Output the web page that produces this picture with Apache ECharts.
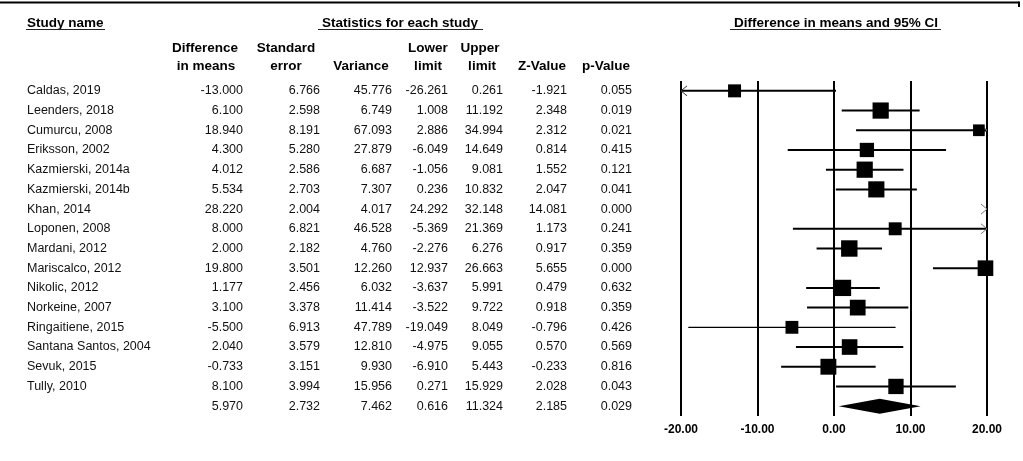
<!DOCTYPE html>
<html>
<head>
<meta charset="utf-8">
<title>Forest plot</title>
<script src="https://cdn.jsdelivr.net/npm/echarts@6/dist/echarts.min.js"></script>
<style>
  html, body { margin: 0; padding: 0; background: #fff; }
  #chart { width: 1023px; height: 461px; }
</style>
</head>
<body>
<div id="chart"></div>
<script>
// ---- Study-level statistics ----
const studies = [
  'Caldas, 2019', 'Leenders, 2018', 'Cumurcu, 2008', 'Eriksson, 2002',
  'Kazmierski, 2014a', 'Kazmierski, 2014b', 'Khan, 2014', 'Loponen, 2008',
  'Mardani, 2012', 'Mariscalco, 2012', 'Nikolic, 2012', 'Norkeine, 2007',
  'Ringaitiene, 2015', 'Santana Santos, 2004', 'Sevuk, 2015', 'Tully, 2010'
];
const diffMeans = [-13.000, 6.100, 18.940, 4.300, 4.012, 5.534, 28.220, 8.000, 2.000, 19.800, 1.177, 3.100, -5.500, 2.040, -0.733, 8.100];
const stdError  = [6.766, 2.598, 8.191, 5.280, 2.586, 2.703, 2.004, 6.821, 2.182, 3.501, 2.456, 3.378, 6.913, 3.579, 3.151, 3.994];
const variance  = [45.776, 6.749, 67.093, 27.879, 6.687, 7.307, 4.017, 46.528, 4.760, 12.260, 6.032, 11.414, 47.789, 12.810, 9.930, 15.956];
const lowerLim  = [-26.261, 1.008, 2.886, -6.049, -1.056, 0.236, 24.292, -5.369, -2.276, 12.937, -3.637, -3.522, -19.049, -4.975, -6.910, 0.271];
const upperLim  = [0.261, 11.192, 34.994, 14.649, 9.081, 10.832, 32.148, 21.369, 6.276, 26.663, 5.991, 9.722, 8.049, 9.055, 5.443, 15.929];
const zValue    = [-1.921, 2.348, 2.312, 0.814, 1.552, 2.047, 14.081, 1.173, 0.917, 5.655, 0.479, 0.918, -0.796, 0.570, -0.233, 2.028];
const pValue    = [0.055, 0.019, 0.021, 0.415, 0.121, 0.041, 0.000, 0.241, 0.359, 0.000, 0.632, 0.359, 0.426, 0.569, 0.816, 0.043];

// ---- Pooled estimate ----
const pooledDiff = 5.970;
const pooledSE = 2.732;
const pooledVar = 7.462;
const pooledLower = 0.616;
const pooledUpper = 11.324;
const pooledZ = 2.185;
const pooledP = 0.029;

// ---- Forest axis ----
const xMin = -20, xMax = 20, xStep = 10;

// ---- Layout / style ----
const FONT = 'Arial, "Liberation Sans", sans-serif';
const TXT = '#111';
const BODY_SIZE = 12.5;
const HEAD_SIZE = 13.5;
const gridLeft = 681, gridTop = 81, gridWidth = 306, gridHeight = 335;
const nameLeft = 27;
const thinCiRows = [12];               // drawn with a lighter whisker

const fmt3 = v => v.toFixed(3);
const rowNames = studies.concat(['']);
const columns = [
  { right: 243, values: diffMeans.concat([pooledDiff]) },
  { right: 320, values: stdError.concat([pooledSE]) },
  { right: 392, values: variance.concat([pooledVar]) },
  { right: 448, values: lowerLim.concat([pooledLower]) },
  { right: 503, values: upperLim.concat([pooledUpper]) },
  { right: 567, values: zValue.concat([pooledZ]) },
  { right: 632, values: pValue.concat([pooledP]) }
];

const baseYAxis = {
  type: 'category',
  inverse: true,
  position: 'left',
  axisLine: { show: false },
  axisTick: { show: false },
  splitLine: { show: false }
};

const yAxes = [
  Object.assign({}, baseYAxis, {
    data: rowNames,
    offset: gridLeft - nameLeft,
    axisLabel: { align: 'left', margin: 0, interval: 0, fontFamily: FONT, fontSize: BODY_SIZE, color: TXT }
  })
].concat(columns.map(c => Object.assign({}, baseYAxis, {
  data: c.values.map(fmt3),
  offset: gridLeft - c.right,
  axisLabel: { align: 'right', margin: 0, interval: 0, fontFamily: FONT, fontSize: BODY_SIZE, color: TXT }
})));

// marker side grows with inverse-variance weight
function squareSize(v) {
  return 16.5 * 154 / (v + 150);
}

function clampX(x) { return Math.max(xMin, Math.min(xMax, x)); }

function renderStudy(params, api) {
  const lo = api.value(0), hi = api.value(1), d = api.value(2), row = api.value(3), v = api.value(4);
  const y = api.coord([0, row])[1];
  const children = [];
  const lw = thinCiRows.indexOf(row) >= 0 ? 1.2 : 2;
  if (hi >= xMin && lo <= xMax) {
    const x1 = api.coord([clampX(lo), row])[0];
    const x2 = api.coord([clampX(hi), row])[0];
    children.push({ type: 'line', shape: { x1: x1, y1: y, x2: x2, y2: y }, style: { stroke: '#000', lineWidth: lw } });
  }
  if (lo < xMin) {
    const xa = api.coord([xMin, row])[0];
    children.push({ type: 'polyline', shape: { points: [[xa + 6, y - 5], [xa, y], [xa + 6, y + 5]] }, style: { stroke: '#333', lineWidth: 1, fill: null } });
  }
  if (hi > xMax) {
    const xb = api.coord([xMax, row])[0];
    children.push({ type: 'polyline', shape: { points: [[xb - 6, y - 5], [xb, y], [xb - 6, y + 5]] }, style: { stroke: '#777', lineWidth: 1, fill: null } });
  }
  if (d >= xMin && d <= xMax) {
    const xc = api.coord([d, row])[0];
    const s = squareSize(v);
    children.push({ type: 'rect', shape: { x: xc - s / 2, y: y - s / 2, width: s, height: s }, style: { fill: '#000' } });
  }
  return { type: 'group', children: children };
}

function renderPooled(params, api) {
  const lo = api.coord([api.value(0), api.value(3)]);
  const hi = api.coord([api.value(1), api.value(3)]);
  const mid = api.coord([api.value(2), api.value(3)]);
  const h = api.size([0, 1])[1] * 0.38;
  return {
    type: 'polygon',
    shape: { points: [[lo[0], lo[1]], [mid[0], mid[1] - h], [hi[0], hi[1]], [mid[0], mid[1] + h]] },
    style: { fill: '#000' }
  };
}

const boldText = (text, x, y, align) => ({
  type: 'text', x: x, y: y,
  style: { text: text, font: 'bold ' + HEAD_SIZE + 'px ' + FONT, fill: '#000', textAlign: align || 'center', textVerticalAlign: 'middle' }
});
const rule = (x1, y1, x2, y2, w, c) => ({
  type: 'line', shape: { x1: x1, y1: y1, x2: x2, y2: y2 }, style: { stroke: c || '#000', lineWidth: w || 1 }
});

const chart = echarts.init(document.getElementById('chart'), null, { renderer: 'canvas' });
chart.setOption({
  backgroundColor: '#fff',
  animation: false,
  grid: { left: gridLeft, top: gridTop, width: gridWidth, height: gridHeight, containLabel: false },
  xAxis: {
    type: 'value', min: xMin, max: xMax, interval: xStep,
    axisLine: { show: false }, axisTick: { show: false },
    splitLine: { show: true, lineStyle: { color: '#000', width: 2 } },
    axisLabel: { formatter: v => v.toFixed(2), fontFamily: FONT, fontWeight: 'bold', fontSize: 12, color: '#000', margin: 8 }
  },
  yAxis: yAxes,
  series: [
    {
      type: 'custom',
      name: 'Studies',
      renderItem: renderStudy,
      encode: { x: [0, 1, 2], y: 3 },
      data: studies.map((n, i) => [lowerLim[i], upperLim[i], diffMeans[i], i, variance[i]]),
      clip: false,
      z: 5
    },
    {
      type: 'custom',
      name: 'Pooled',
      renderItem: renderPooled,
      encode: { x: [0, 1, 2], y: 3 },
      data: [[pooledLower, pooledUpper, pooledDiff, studies.length]],
      z: 5
    }
  ],
  graphic: [
    rule(0, 2.5, 1019, 2.5, 2),
    rule(1019, 1.5, 1019, 7, 2),
    boldText('Study name', nameLeft, 23, 'left'),
    rule(26, 29.5, 105, 29.5, 1, '#222'),
    boldText('Statistics for each study', 400, 23),
    rule(318, 29.5, 483, 29.5, 1, '#222'),
    boldText('Difference in means and 95% CI', 836, 23),
    rule(730, 29.5, 941, 29.5, 1, '#222'),
    boldText('Difference', 205, 48),
    boldText('in means', 206, 66),
    boldText('Standard', 286, 48),
    boldText('error', 286, 66),
    boldText('Variance', 361, 66),
    boldText('Lower', 428, 48),
    boldText('limit', 428, 66),
    boldText('Upper', 480, 48),
    boldText('limit', 482, 66),
    boldText('Z-Value', 542, 66),
    boldText('p-Value', 606, 66)
  ]
});
</script>
</body>
</html>
